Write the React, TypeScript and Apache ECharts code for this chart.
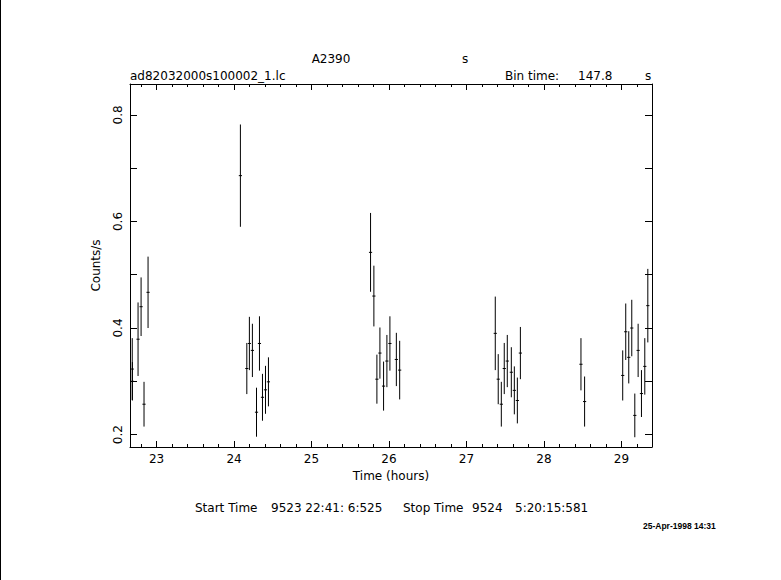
import React, { useEffect, useRef } from "react";
import * as echarts from "echarts";

// Light curve bins: time (hours), rate (counts/s), 1-sigma error
const timeHours = [
  22.686, 22.688, 22.761, 22.8, 22.838, 22.89,
  24.082, 24.165, 24.198, 24.237, 24.29, 24.328, 24.367, 24.406, 24.444,
  25.762, 25.805, 25.844, 25.883, 25.93, 25.973, 26.012, 26.095, 26.138,
  27.372, 27.41, 27.45, 27.488, 27.527, 27.579, 27.618, 27.657, 27.696,
  28.478, 28.525,
  29.017, 29.056, 29.095, 29.134, 29.173, 29.216, 29.259, 29.302, 29.341,
];
const rates = [
  0.323, 0.3, 0.379, 0.44, 0.257, 0.467,
  0.686, 0.324, 0.371, 0.358, 0.242, 0.371, 0.27, 0.284, 0.299,
  0.542, 0.46, 0.304, 0.353, 0.291, 0.338, 0.371, 0.341, 0.321,
  0.39, 0.304, 0.257, 0.324, 0.338, 0.317, 0.283, 0.264, 0.353,
  0.332, 0.262,
  0.311, 0.393, 0.345, 0.4, 0.236, 0.358, 0.277, 0.328, 0.442,
];
const errors = [
  0.058, 0.036, 0.069, 0.055, 0.042, 0.067,
  0.096, 0.048, 0.05, 0.05, 0.046, 0.051, 0.044, 0.045, 0.046,
  0.074, 0.057, 0.046, 0.048, 0.046, 0.049, 0.051, 0.05, 0.055,
  0.069, 0.047, 0.042, 0.048, 0.049, 0.047, 0.045, 0.043, 0.049,
  0.049, 0.047,
  0.047, 0.053, 0.049, 0.053, 0.041, 0.05, 0.044, 0.053, 0.069,
];

const binTimeSec = 147.8;
const xMajorTicks = [23, 24, 25, 26, 27, 28, 29];
const xMinorTicks = [
  22.8, 23.2, 23.4, 23.6, 23.8, 24.2, 24.4, 24.6, 24.8, 25.2, 25.4, 25.6, 25.8,
  26.2, 26.4, 26.6, 26.8, 27.2, 27.4, 27.6, 27.8, 28.2, 28.4, 28.6, 28.8, 29.2,
];
const yTicks = [0.2, 0.3, 0.4, 0.5, 0.6, 0.7, 0.8];
const yLabels = [0.2, 0.4, 0.6, 0.8];
const X_MIN = 22.657;
const X_MAX = 29.395;
const Y_MIN = 0.1767;
const Y_MAX = 0.858;

const FONT = '"DejaVu Sans", sans-serif';

export default function App() {
  const ref = useRef<HTMLDivElement>(null);
  useEffect(() => {
    if (!ref.current) return;
    const chart = echarts.init(ref.current, null, { renderer: "svg" });
    const halfBin = binTimeSec / 3600 / 2;
    const data = timeHours.map((t, i) => [t, rates[i], errors[i]]);
    const black = "#000";
    const axisBase = (pos: string, ticks: number[], len: number, showLine: boolean) => ({
      type: "value",
      position: pos,
      min: X_MIN,
      max: X_MAX,
      axisLine: { show: showLine, onZero: false, lineStyle: { color: black, width: 1 } },
      axisTick: { show: true, inside: true, length: len, customValues: ticks, lineStyle: { color: black, width: 1 } },
      axisLabel: { show: false },
      splitLine: { show: false },
    });
    const option: any = {
      animation: false,
      backgroundColor: "#fff",
      grid: { left: 130, top: 84, right: 129, bottom: 133, containLabel: false, outerBoundsMode: "none" },
      xAxis: [
        {
          ...axisBase("bottom", xMajorTicks, 6, true),
          axisLabel: {
            show: true,
            customValues: xMajorTicks,
            color: black,
            fontSize: 12,
            fontFamily: FONT,
            margin: 6,
            formatter: (v: number) => String(Math.round(v)),
          },
          name: "Time (hours)",
          nameLocation: "middle",
          nameGap: 21,
          nameTextStyle: { color: black, fontSize: 12, fontFamily: FONT },
        },
        axisBase("bottom", xMinorTicks, 3, false),
        axisBase("top", xMajorTicks, 6, true),
        axisBase("top", xMinorTicks, 3, false),
      ],
      yAxis: [
        {
          type: "value",
          position: "left",
          min: Y_MIN,
          max: Y_MAX,
          axisLine: { show: true, onZero: false, lineStyle: { color: black, width: 1 } },
          axisTick: { show: true, inside: true, length: 7, customValues: yTicks, lineStyle: { color: black, width: 1 } },
          axisLabel: {
            show: true,
            customValues: yLabels,
            rotate: 90,
            color: black,
            fontSize: 12,
            fontFamily: FONT,
            margin: 6,
            formatter: (v: number) => v.toFixed(1),
          },
          splitLine: { show: false },
          name: "Counts/s",
          nameLocation: "middle",
          nameGap: 28,
          nameRotate: 90,
          nameTextStyle: { color: black, fontSize: 12, fontFamily: FONT },
        },
        {
          type: "value",
          position: "right",
          min: Y_MIN,
          max: Y_MAX,
          axisLine: { show: true, onZero: false, lineStyle: { color: black, width: 1 } },
          axisTick: { show: true, inside: true, length: 7, customValues: yTicks, lineStyle: { color: black, width: 1 } },
          axisLabel: { show: false },
          splitLine: { show: false },
        },
      ],
      series: [
        {
          type: "custom",
          xAxisIndex: 0,
          yAxisIndex: 0,
          data,
          renderItem: (params: any, api: any) => {
            const x = api.value(0);
            const y = api.value(1);
            const e = api.value(2);
            const top = api.coord([x, y + e]);
            const bot = api.coord([x, y - e]);
            const l = api.coord([x - halfBin, y]);
            const r = api.coord([x + halfBin, y]);
            return {
              type: "group",
              children: [
                { type: "line", shape: { x1: top[0], y1: top[1], x2: bot[0], y2: bot[1] }, style: { stroke: black, lineWidth: 1 } },
                { type: "line", shape: { x1: l[0], y1: l[1], x2: r[0], y2: r[1] }, style: { stroke: black, lineWidth: 1 } },
              ],
            };
          },
        },
      ],
      graphic: [
        { type: "rect", shape: { x: 0, y: 0, width: 1, height: 580 }, style: { fill: black } },
        { type: "text", x: 331, y: 59, style: { text: "A2390", fill: black, font: `12px ${FONT}`, textAlign: "center", textVerticalAlign: "middle" } },
        { type: "text", x: 465, y: 59, style: { text: "s", fill: black, font: `12px ${FONT}`, textAlign: "center", textVerticalAlign: "middle" } },
        { type: "text", x: 130, y: 76, style: { text: "ad82032000s100002_1.lc", fill: black, font: `12px ${FONT}`, textAlign: "left", textVerticalAlign: "middle" } },
        { type: "text", x: 505, y: 76, style: { text: "Bin time:", fill: black, font: `12px ${FONT}`, textAlign: "left", textVerticalAlign: "middle" } },
        { type: "text", x: 578, y: 76, style: { text: "147.8", fill: black, font: `12px ${FONT}`, textAlign: "left", textVerticalAlign: "middle" } },
        { type: "text", x: 645, y: 76, style: { text: "s", fill: black, font: `12px ${FONT}`, textAlign: "left", textVerticalAlign: "middle" } },
        { type: "text", x: 195, y: 508, style: { text: "Start Time", fill: black, font: `12px ${FONT}`, textAlign: "left", textVerticalAlign: "middle" } },
        { type: "text", x: 271, y: 508, style: { text: "9523 22:41: 6:525", fill: black, font: `12px ${FONT}`, textAlign: "left", textVerticalAlign: "middle" } },
        { type: "text", x: 403, y: 508, style: { text: "Stop Time", fill: black, font: `12px ${FONT}`, textAlign: "left", textVerticalAlign: "middle" } },
        { type: "text", x: 472, y: 508, style: { text: "9524", fill: black, font: `12px ${FONT}`, textAlign: "left", textVerticalAlign: "middle" } },
        { type: "text", x: 515, y: 508, style: { text: "5:20:15:581", fill: black, font: `12px ${FONT}`, textAlign: "left", textVerticalAlign: "middle" } },
        { type: "text", x: 643, y: 526, style: { text: "25-Apr-1998 14:31", fill: black, font: `bold 8.5px "Liberation Sans", sans-serif`, textAlign: "left", textVerticalAlign: "middle" } },
      ],
    };
    chart.setOption(option);
    return () => chart.dispose();
  }, []);
  return (
    <div
      ref={ref}
      style={{ position: "fixed", left: 0, top: 0, width: 781, height: 580, background: "#fff" }}
    />
  );
}
